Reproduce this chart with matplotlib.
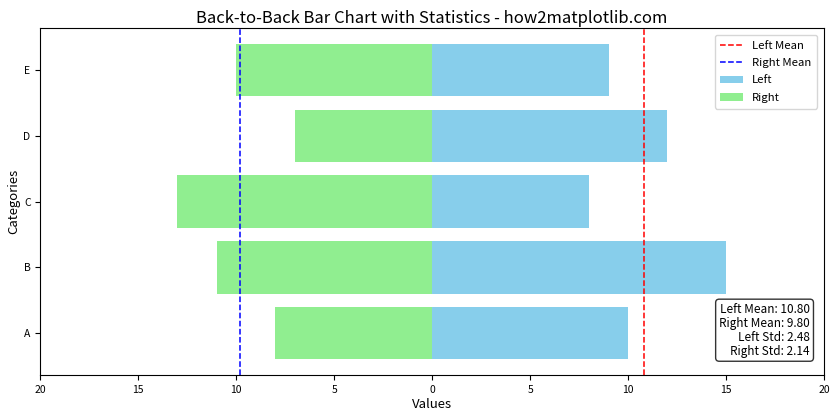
import numpy as np
import matplotlib.pyplot as plt

plt.rcParams['font.family'] = ['Noto Sans CJK SC', 'DejaVu Sans']

categories = ['A', 'B', 'C', 'D', 'E']
left_values = [10, 15, 8, 12, 9]
right_values = [8, 11, 13, 7, 10]

fig, ax = plt.subplots(figsize=(8.4, 4.2), dpi=100)

ax.barh(categories, left_values, color='skyblue', label='Left')
ax.barh(categories, [-v for v in right_values], color='lightgreen', label='Right')

left_mean = np.mean(left_values)
right_mean = np.mean(right_values)
left_std = np.std(left_values)
right_std = np.std(right_values)

ax.axvline(left_mean, color='red', linestyle='--', linewidth=1.1, label='Left Mean')
ax.axvline(-right_mean, color='blue', linestyle='--', linewidth=1.1, label='Right Mean')

ax.set_xlim(-20, 20)
ticks = np.arange(-20, 21, 5)
ax.set_xticks(ticks)
ax.set_xticklabels([str(abs(t)) for t in ticks])
ax.tick_params(labelsize=7.5)

ax.set_title('Back-to-Back Bar Chart with Statistics - how2matplotlib.com', fontsize=12, pad=4)
ax.set_xlabel('Values', fontsize=9.5, labelpad=2)
ax.set_ylabel('Categories', fontsize=9.5, labelpad=2)
ax.legend(fontsize=8.2, loc='upper right', handlelength=2.0, borderpad=0.5,
          labelspacing=0.65, borderaxespad=0.6)

stats = (f'Left Mean: {left_mean:.2f}\nRight Mean: {right_mean:.2f}\n'
         f'Left Std: {left_std:.2f}\nRight Std: {right_std:.2f}')
ax.text(0.982, 0.05, stats, transform=ax.transAxes, ha='right', va='bottom',
        fontsize=8.5, linespacing=1.1,
        bbox=dict(boxstyle='round,pad=0.3', facecolor='white', alpha=0.8))

fig.subplots_adjust(left=0.048, right=0.981, top=0.933, bottom=0.107)
plt.savefig('out.png')
